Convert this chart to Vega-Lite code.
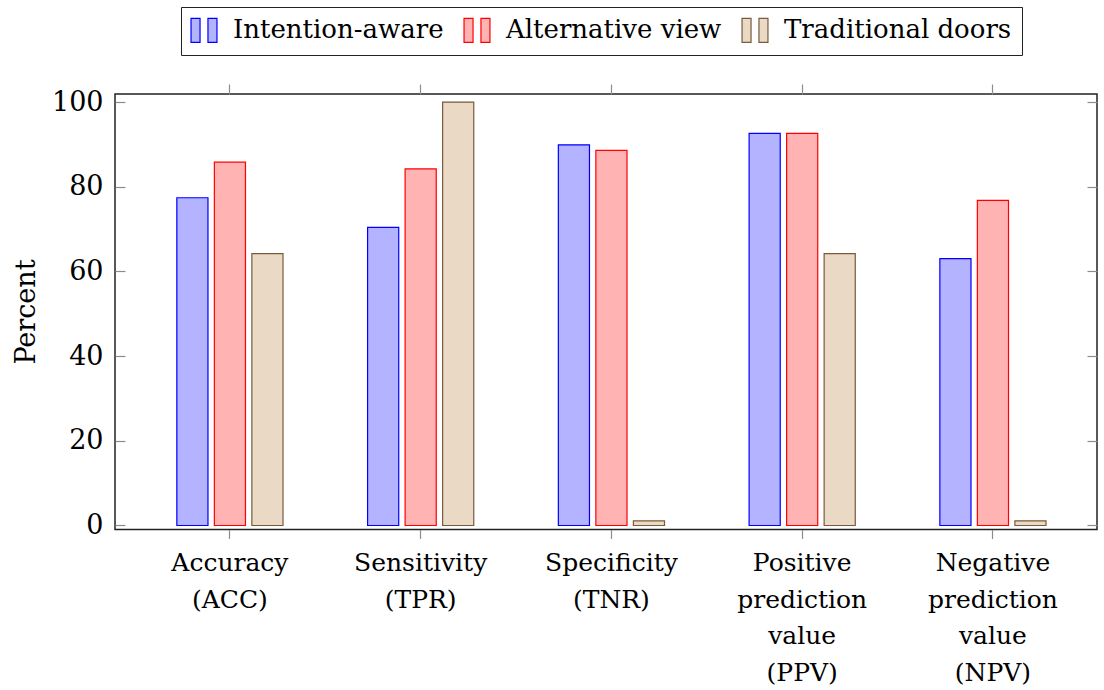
{
  "$schema": "https://vega.github.io/schema/vega-lite/v6.json",
  "autosize": {"type": "none"},
  "width": 982,
  "height": 435.5,
  "padding": {"left": 115, "top": 94, "right": 7, "bottom": 160.5},
  "background": "white",
  "config": {
    "view": {"stroke": "#222222", "strokeWidth": 1.5},
    "font": "DejaVu Serif",
    "axis": {"grid": false, "domain": false, "tickColor": "#8c8c8c", "tickWidth": 1.2, "labelFont": "DejaVu Serif", "titleFont": "DejaVu Serif", "labelColor": "black", "titleColor": "black", "titleFontWeight": "normal"},
    "legend": {"labelFont": "DejaVu Serif", "labelColor": "black", "labelLimit": 500}
  },
  "data": {
    "values": [
      {"category": "Accuracy|(ACC)", "series": "Intention-aware", "value": 77.4},
      {"category": "Accuracy|(ACC)", "series": "Alternative view", "value": 85.8},
      {"category": "Accuracy|(ACC)", "series": "Traditional doors", "value": 64.2},
      {"category": "Sensitivity|(TPR)", "series": "Intention-aware", "value": 70.4},
      {"category": "Sensitivity|(TPR)", "series": "Alternative view", "value": 84.2},
      {"category": "Sensitivity|(TPR)", "series": "Traditional doors", "value": 100},
      {"category": "Specificity|(TNR)", "series": "Intention-aware", "value": 89.9},
      {"category": "Specificity|(TNR)", "series": "Alternative view", "value": 88.6},
      {"category": "Specificity|(TNR)", "series": "Traditional doors", "value": 1.1},
      {"category": "Positive|prediction|value|(PPV)", "series": "Intention-aware", "value": 92.6},
      {"category": "Positive|prediction|value|(PPV)", "series": "Alternative view", "value": 92.6},
      {"category": "Positive|prediction|value|(PPV)", "series": "Traditional doors", "value": 64.2},
      {"category": "Negative|prediction|value|(NPV)", "series": "Intention-aware", "value": 63.0},
      {"category": "Negative|prediction|value|(NPV)", "series": "Alternative view", "value": 76.8},
      {"category": "Negative|prediction|value|(NPV)", "series": "Traditional doors", "value": 1.1}
    ]
  },
  "resolve": {"axis": {"x": "independent", "y": "independent"}},
  "layer": [
    {
      "mark": {"type": "bar", "strokeWidth": 1.2},
      "encoding": {
        "x": {
          "field": "category", "type": "nominal", "sort": null,
          "scale": {"paddingInner": 0.41, "paddingOuter": 0.279, "align": 0.551},
          "axis": {"orient": "bottom", "title": null, "labelAngle": 0, "tickSize": 9, "labelPadding": 12, "labelFontSize": 25, "labelLineHeight": 36.5, "labelBaseline": "top", "labelExpr": "split(datum.label, '|')"}
        },
        "xOffset": {
          "field": "series", "type": "nominal",
          "scale": {"domain": ["Intention-aware", "Alternative view", "Traditional doors"], "paddingInner": 0.17, "paddingOuter": 0.085}
        },
        "y": {
          "field": "value", "type": "quantitative",
          "scale": {"domain": [-0.95, 101.9], "nice": false, "zero": false},
          "axis": {"orient": "left", "values": [0, 20, 40, 60, 80, 100], "tickSize": -10, "labelPadding": 22, "labelFontSize": 27, "title": "Percent", "titleFontSize": 27, "titleAngle": 270, "titleX": -81, "titleY": 217.5, "titleAlign": "center", "titleBaseline": "alphabetic"}
        },
        "y2": {"datum": 0},
        "fill": {
          "field": "series", "type": "nominal",
          "scale": {"domain": ["Intention-aware", "Alternative view", "Traditional doors"], "range": ["#b3b3ff", "#ffb3b3", "#ead9c5"]},
          "legend": {
            "orient": "none", "legendX": 66, "legendY": -87, "direction": "horizontal", "title": null,
            "strokeColor": "#222222", "padding": 10,
            "symbolType": "M-1.08,-1H-0.33V1H-1.08Z M0.33,-1H1.08V1H0.33Z",
            "symbolSize": 576, "symbolStrokeWidth": 1.2, "symbolOpacity": 1,
            "labelFontSize": 26, "labelOffset": 16, "columnPadding": 17, "labelLimit": 500
          }
        },
        "stroke": {
          "field": "series", "type": "nominal",
          "scale": {"domain": ["Intention-aware", "Alternative view", "Traditional doors"], "range": ["#0000ff", "#ff0000", "#7a5a3a"]},
          "legend": {
            "orient": "none", "legendX": 66, "legendY": -87, "direction": "horizontal", "title": null,
            "strokeColor": "#222222", "padding": 10,
            "symbolType": "M-1.08,-1H-0.33V1H-1.08Z M0.33,-1H1.08V1H0.33Z",
            "symbolSize": 576, "symbolStrokeWidth": 1.2, "symbolOpacity": 1,
            "labelFontSize": 26, "labelOffset": 16, "columnPadding": 17, "labelLimit": 500
          }
        }
      }
    },
    {
      "mark": {"type": "bar", "opacity": 0},
      "encoding": {
        "x": {
          "field": "category", "type": "nominal", "sort": null,
          "axis": {"orient": "top", "title": null, "labels": false, "tickSize": 10}
        },
        "xOffset": {"field": "series", "type": "nominal"},
        "y": {
          "field": "value", "type": "quantitative",
          "axis": {"orient": "right", "title": null, "labels": false, "values": [0, 20, 40, 60, 80, 100], "tickSize": -10}
        }
      }
    }
  ]
}
